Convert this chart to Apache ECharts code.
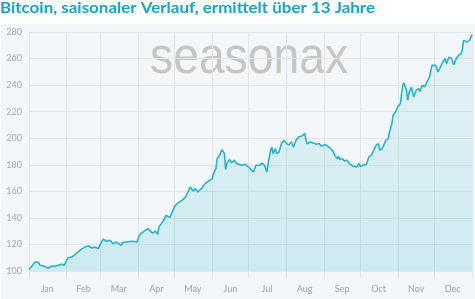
<!DOCTYPE html>
<html>
<head>
<meta charset="utf-8">
<script src="https://cdn.jsdelivr.net/npm/echarts@6/dist/echarts.min.js"></script>
<style>
html,body{margin:0;padding:0;background:#fff;}
#c{width:475px;height:299px;}
</style>
</head>
<body>
<div id="c"></div>
<script>
// Month names and lengths (non-leap year)
var months = ['Jan','Feb','Mar','Apr','May','Jun','Jul','Aug','Sep','Oct','Nov','Dec'];
var monthDays = [31,28,31,30,31,30,31,31,30,31,30,31];
var yTicks = [100,120,140,160,180,200,220,240,260,280];

// Seasonal curve: day of year (0..365)
var days = [0,5,8,9,12,14,16,19,21,24,27,29,30,32,35,38,41,43,46,49,52,54,57,59,61,64,67,69,72,76,77,80,85,86,89,91,94,98,100,102,104,106,107,109,111,113,116,118,120,122,124,126,129,130,131,133,135,137,139,140,142,145,148,151,152,154,155,157,159,161,162,163,165,167,169,171,172,175,178,181,183,185,187,190,192,194,196,197,199,200,201,203,204,206,208,210,212,214,216,218,220,222,224,226,227,228,229,232,234,237,239,241,244,247,248,250,252,254,255,256,258,260,262,264,267,270,272,273,275,278,280,282,284,286,288,289,291,292,294,296,297,299,300,302,304,306,307,308,309,311,312,313,315,317,319,321,322,324,326,328,330,332,333,335,337,339,341,343,344,346,348,350,352,354,356,357,358,361,363,364,365];
var values = [101,106.8,106.3,104.3,103.8,103,102.3,103.8,103.5,104.3,105,104.3,105.5,109.8,110.5,112.3,114.8,116.3,118,118.8,117.3,118,116.9,120.6,123.9,122.4,123.1,120.6,121.8,119.3,121.4,121.8,122.4,122.4,121.8,126.9,129.4,131.9,130.1,128.6,130.1,127.6,133.1,135.7,138.2,141.9,140.2,144.4,148.7,150.7,152,153.2,155.7,154.5,159.5,163.3,160.2,162,159.5,158.3,162,165.8,167.8,169.6,173.4,177.1,184.6,187.1,191.4,188.4,176.5,180.9,183.9,181.5,183.4,180.9,181.5,179.6,180.4,178.3,176.4,174.6,179.6,179.6,181.3,179.6,174.6,180.9,190.9,193.4,188.4,192.2,188.4,189.6,196,198.4,196.4,194.7,197.2,193.4,198.4,200.9,201.4,202.2,203.9,199.7,195.9,197.2,196.4,195.4,196,193.9,195.4,193.4,192.6,190.9,187.1,184.6,186.4,183.9,184.6,182.9,183.4,180.9,178.9,178.3,180.9,178.6,179.6,180.2,185.9,187.1,190.9,194.7,196,190.9,192.2,193.4,198.4,199.7,204.7,211,217.3,219.7,224,226,233.6,239.9,241.6,236.1,228.6,233.6,238.6,231.1,236.1,237.4,235.3,239.9,238.6,242.4,246.1,254.9,256.2,254.9,249.9,253.6,257.4,260,256.2,261.1,260,255.4,260,262.5,263.7,266.2,273.7,272.4,273.7,276.2,278];

// Build axis categories and helpers from month lengths
var categories = [];
var monthStart = [0];
var monthMid = [];
(function(){
  var acc = 0;
  for (var m = 0; m < 12; m++) {
    monthMid.push(acc + Math.floor(monthDays[m] / 2));
    acc += monthDays[m];
    monthStart.push(acc);
  }
  for (var d = 0; d <= acc; d++) categories.push(String(d));
})();
var midToMonth = {};
monthMid.forEach(function(v, i){ midToMonth[v] = months[i]; });
var startSet = {};
monthStart.forEach(function(v){ startSet[v] = true; });

var seriesData = days.map(function(d, i){ return [d, values[i]]; });

var chart = echarts.init(document.getElementById('c'), null, {renderer: 'canvas'});
chart.setOption({
  animation: false,
  backgroundColor: '#ffffff',
  graphic: [
    {type: 'rect', z: -10, silent: true, shape: {x: 1, y: 24, width: 474, height: 275}, style: {fill: '#f3f7fa'}},
    {type: 'text', z: 100, x: 0, y: -0.5, scaleX: 1.06, scaleY: 1, style: {text: 'Bitcoin, saisonaler Verlauf, ermittelt über 13 Jahre', fill: '#1aa3c2', font: 'bold 16px Lato'}},
    {type: 'text', z: -5, x: 150, y: 33, scaleX: 0.89, scaleY: 1, silent: true, style: {text: 'seasonax', fill: '#c6c6c6', font: '52px "Liberation Sans"'}}
  ],
  grid: {left: 29, right: 3, top: 32, bottom: 28},
  xAxis: {
    type: 'category',
    data: categories,
    boundaryGap: false,
    axisLine: {show: false},
    axisTick: {show: true, length: 7, lineStyle: {color: '#e1e6ea'}, interval: function(i){ return !!startSet[i]; }},
    splitLine: {show: true, lineStyle: {color: '#e1e6ea', width: 1}, interval: function(i){ return !!startSet[i]; }},
    axisLabel: {
      interval: function(i){ return midToMonth[i] !== undefined; },
      formatter: function(v, i){ return midToMonth[i] || ''; },
      color: '#a0a0a0', fontSize: 9, fontFamily: 'Lato', margin: 14
    }
  },
  yAxis: {
    type: 'value',
    min: yTicks[0], max: yTicks[yTicks.length - 1], interval: 20,
    axisLine: {show: false}, axisTick: {show: false},
    splitLine: {lineStyle: {color: '#e1e6ea', width: 1}},
    axisLabel: {color: '#a8a8a8', fontSize: 9, fontFamily: 'Lato', margin: 7}
  },
  series: [{
    type: 'line',
    data: seriesData,
    symbol: 'none',
    lineStyle: {color: '#2ab3c8', width: 1.6},
    areaStyle: {
      color: new echarts.graphic.LinearGradient(0, 0, 0, 1, [
        {offset: 0, color: 'rgba(42,179,200,0.10)'},
        {offset: 1, color: 'rgba(42,179,200,0.27)'}
      ])
    }
  }]
});
</script>
</body>
</html>
